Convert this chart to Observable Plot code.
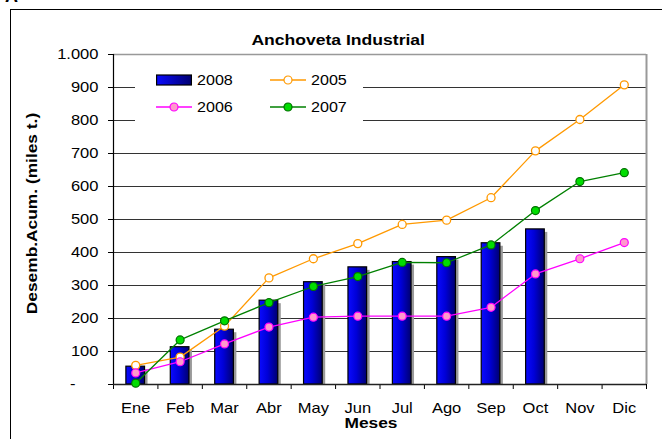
<!DOCTYPE html>
<html>
<head>
<meta charset="utf-8">
<script src="https://cdn.jsdelivr.net/npm/d3@7"></script>
<script src="https://cdn.jsdelivr.net/npm/@observablehq/plot@0.6"></script>
<style>
  html, body { margin: 0; padding: 0; background: #fff; overflow: hidden; }
  body { width: 662px; height: 439px; position: relative; font-family: "Liberation Sans", Arial, sans-serif; }
  #frame { position: absolute; left: 10px; top: 9px; width: 700px; height: 500px; border: 1.5px solid #000; box-sizing: border-box; }
  #chart { position: absolute; left: 0; top: 0; }
  #title { position: absolute; left: 0; width: 676px; top: 32px; text-align: center; font-weight: bold; font-size: 15px; line-height: 15px; color: #000; }
  #title span { display: inline-block; transform: scaleX(1.17); transform-origin: center; }
  #corner { position: absolute; left: 5px; top: -14px; font-weight: bold; font-size: 18px; }
  #legend { position: absolute; left: 135px; top: 66px; width: 228px; height: 58px; background: #fff; font-size: 14px; }
  .item { position: absolute; display: flex; align-items: center; height: 16px; }
  .item svg { display: block; margin-right: 5px; }
  .item span { display: inline-block; transform: scaleX(1.15); transform-origin: left center; }
</style>
</head>
<body>
<div id="frame"></div>
<div id="corner">A</div>
<div id="chart"></div>
<div id="title"><span>Anchoveta Industrial</span></div>
<div id="legend"></div>
<script>
// ---- data ----
const months = ["Ene", "Feb", "Mar", "Abr", "May", "Jun", "Jul", "Ago", "Sep", "Oct", "Nov", "Dic"];
const v2008 = [54, 113, 166, 254, 310, 355, 371, 386, 428, 470, null, null];
const v2005 = [58, 83, 177, 323, 381, 427, 485, 498, 566, 708, 803, 908];
const v2006 = [35, 69, 123, 174, 204, 207, 207, 207, 234, 335, 381, 430];
const v2007 = [4, 135, 193, 248, 297, 327, 370, 369, 423, 527, 615, 642];
const yTicks = [0, 100, 200, 300, 400, 500, 600, 700, 800, 900, 1000];
const yTickLabels = ["-\u00a0\u00a0\u00a0\u00a0\u00a0", "100", "200", "300", "400", "500", "600", "700", "800", "900", "1.000"];
const yTitle = "Desemb.Acum. (miles t.)";
const xTitle = "Meses";
const seriesNames = ["2008", "2005", "2006", "2007"];

// ---- tables ----
const rows = (vals) => vals.map((v, i) => ({i, month: months[i], v})).filter(d => d.v != null);
const bars = rows(v2008);
const s2005 = rows(v2005), s2006 = rows(v2006), s2007 = rows(v2007);
const monthIdx = months.map((m, i) => i);
const boundaries = months.map((m, i) => i - 0.5).concat([months.length - 0.5]);
const gridVals = yTicks.filter(t => t > 0 && t < 1000);

const half = 0.21;

const defsMark = () => {
  const ns = "http://www.w3.org/2000/svg";
  const defs = document.createElementNS(ns, "defs");
  const g = document.createElementNS(ns, "linearGradient");
  g.setAttribute("id", "barGrad");
  g.setAttribute("x1", "0"); g.setAttribute("x2", "1"); g.setAttribute("y1", "0"); g.setAttribute("y2", "0");
  [["0%", "#0a0aff"], ["45%", "#0000d8"], ["100%", "#000070"]].forEach(([o, c]) => {
    const s = document.createElementNS(ns, "stop");
    s.setAttribute("offset", o); s.setAttribute("stop-color", c);
    g.appendChild(s);
  });
  defs.appendChild(g);
  return defs;
};

const chart = Plot.plot({
  width: 662,
  height: 439,
  marginLeft: 113,
  marginRight: 16,
  marginTop: 54,
  marginBottom: 55,
  style: {fontFamily: "'Liberation Sans', Arial, sans-serif", fontSize: "14px", color: "#000", background: "transparent"},
  x: {type: "linear", domain: [-0.5, 11.5]},
  y: {domain: [0, 1000]},
  marks: [
    defsMark,
    // gridlines
    Plot.ruleY(gridVals, {stroke: "#333", strokeWidth: 1.1}),
    Plot.ruleY([1000], {stroke: "#999", strokeWidth: 1.5}),
    Plot.ruleX([11.5], {y1: 0, y2: 1000, stroke: "#999", strokeWidth: 2}),
    // y axis
    Plot.axisY({ticks: yTicks, tickSize: 5, tickPadding: 10, tickFormat: (d) => yTickLabels[yTicks.indexOf(d)], label: null, stroke: "#000"}),
    // x month labels
    Plot.axisX({ticks: monthIdx, tickSize: 0, tickPadding: 19, tickFormat: (i) => months[i], label: null}),
    // x boundary ticks
    Plot.axisX({ticks: boundaries, tickSize: 5, tickFormat: () => "", label: null, stroke: "#000"}),
    // bar shadows
    Plot.rectY(bars, {x1: d => d.i - half, x2: d => d.i + half, y: "v", dx: 3, insetTop: 3, fill: "#9a9a9a"}),
    // bars
    Plot.rectY(bars, {x1: d => d.i - half, x2: d => d.i + half, y: "v", fill: "url(#barGrad)", stroke: "#000", strokeWidth: 1.2}),
    // axis lines
    Plot.ruleX([-0.5], {y1: 0, y2: 1000, stroke: "#000", strokeWidth: 1.2}),
    Plot.ruleY([0], {stroke: "#222", strokeWidth: 1.6}),
    // lines
    Plot.line(s2005, {x: "i", y: "v", stroke: "#ff9900", strokeWidth: 1.3}),
    Plot.dot(s2005, {x: "i", y: "v", r: 4, fill: "#fff", stroke: "#ff9900", strokeWidth: 1.3}),
    Plot.line(s2006, {x: "i", y: "v", stroke: "#ff00ff", strokeWidth: 1.3}),
    Plot.dot(s2006, {x: "i", y: "v", r: 4, fill: "#ff99cc", stroke: "#ff00ff", strokeWidth: 1.2}),
    Plot.line(s2007, {x: "i", y: "v", stroke: "#008000", strokeWidth: 1.3}),
    Plot.dot(s2007, {x: "i", y: "v", r: 4, fill: "#00dd00", stroke: "#007000", strokeWidth: 1.2}),
    // axis titles
    Plot.text([yTitle], {frameAnchor: "left", textAnchor: "middle", dx: -81, dy: -6, rotate: -90, text: d => d, fontWeight: "bold", fontSize: 14}),
    Plot.text([xTitle], {frameAnchor: "bottom", textAnchor: "middle", dy: 43, dx: -9, text: d => d, fontWeight: "bold", fontSize: 14})
  ]
});
document.getElementById("chart").appendChild(chart);

// widen glyphs along the text direction (about each text's own anchor) to match the reference's wide rendering
const stretch = (el, s) => {
  const bb = el.getBBox();
  const anchor = getComputedStyle(el).textAnchor;
  const px = anchor === "end" ? bb.x + bb.width : anchor === "middle" ? bb.x + bb.width / 2 : bb.x;
  const t = el.getAttribute("transform") || "";
  el.setAttribute("transform", `${t} translate(${px},0) scale(${s},1) translate(${-px},0)`.trim());
};
const titleTexts = new Set(chart.querySelectorAll('g[aria-label="text"] text'));
chart.querySelectorAll("text").forEach(el => stretch(el, titleTexts.has(el) ? 1.24 : 1.18));

// ---- legend ----
const legend = document.getElementById("legend");
const lineSwatch = (stroke, fill, mstroke) =>
  `<svg width="36" height="12"><line x1="0" x2="36" y1="6" y2="6" stroke="${stroke}" stroke-width="1.3"/><circle cx="18" cy="6" r="4" fill="${fill}" stroke="${mstroke}" stroke-width="1.2"/></svg>`;
const barSwatch = `<svg width="36" height="12"><defs><linearGradient id="lg" x1="0" x2="1"><stop offset="0%" stop-color="#0a0aff"/><stop offset="100%" stop-color="#000070"/></linearGradient></defs><rect x="0.6" y="1" width="34.8" height="10" fill="url(#lg)" stroke="#000" stroke-width="1.2"/></svg>`;
const items = [
  {name: seriesNames[0], sw: barSwatch, left: 21, top: 6},
  {name: seriesNames[1], sw: lineSwatch("#ff9900", "#fff", "#ff9900"), left: 135, top: 6},
  {name: seriesNames[2], sw: lineSwatch("#ff00ff", "#ff99cc", "#ff00ff"), left: 21, top: 33},
  {name: seriesNames[3], sw: lineSwatch("#008000", "#00dd00", "#007000"), left: 135, top: 33}
];
items.forEach(it => {
  const d = document.createElement("div");
  d.className = "item";
  d.style.left = it.left + "px";
  d.style.top = it.top + "px";
  d.innerHTML = it.sw + `<span>${it.name}</span>`;
  legend.appendChild(d);
});
</script>
</body>
</html>
